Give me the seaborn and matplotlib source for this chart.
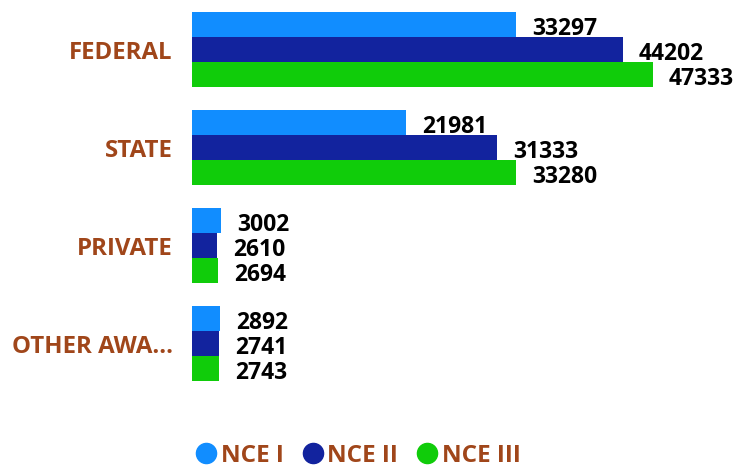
import pandas as pd
import seaborn as sns
import matplotlib.pyplot as plt
from matplotlib.lines import Line2D

categories = ["FEDERAL", "STATE", "PRIVATE", "OTHER AWA..."]
series = ["NCE I", "NCE II", "NCE III"]
nce1 = [33297, 21981, 3002, 2892]
nce2 = [44202, 31333, 2610, 2741]
nce3 = [47333, 33280, 2694, 2743]

colors = ["#118DFF", "#12239E", "#10CC0A"]
brown = "#A0461A"

df = pd.DataFrame({
    "category": categories * 3,
    "series": [s for s in series for _ in categories],
    "value": nce1 + nce2 + nce3,
})

sns.set_theme(style="white")
plt.rcParams["font.family"] = ["Open Sans", "DejaVu Sans"]

fig = plt.figure(figsize=(7.4, 4.69), dpi=100)
ax = fig.add_axes([192 / 740, 1 - 392.5 / 469, 528 / 740, 392 / 469])

sns.barplot(data=df, y="category", x="value", hue="series", orient="h",
            palette=colors, width=0.765, dodge=True, ax=ax, legend=False,
            saturation=1, linewidth=0)

ax.set_xlim(0, 54200)
ax.set_ylim(3.5, -0.5)
ax.set_xlabel("")
ax.set_ylabel("")
ax.set_xticks([])
for s in ax.spines.values():
    s.set_visible(False)
ax.tick_params(axis="y", length=0, pad=14)
for lbl in ax.get_yticklabels():
    lbl.set_color(brown)
    lbl.set_fontweight("bold")
    lbl.set_fontsize(17.3)

# value labels after each bar
for cont in ax.containers:
    anns = ax.bar_label(cont, fmt="%d", padding=11.5, fontsize=16.5,
                        fontweight="bold", color="black")
    for a in anns:
        x, y = a.xyann
        a.xyann = (x, y - 3.2)

handles = [Line2D([], [], marker="o", linestyle="", markersize=14.5,
                  markerfacecolor=c, markeredgecolor=c) for c in colors]
fig.legend(handles, series, loc="center", bbox_to_anchor=(356 / 740, 1 - 456 / 469),
           ncol=3, frameon=False, handletextpad=0.0, columnspacing=0.6,
           handlelength=1.2, labelcolor=brown,
           prop={"weight": "bold", "size": 17.5})

fig.savefig("out.png", dpi=100)
